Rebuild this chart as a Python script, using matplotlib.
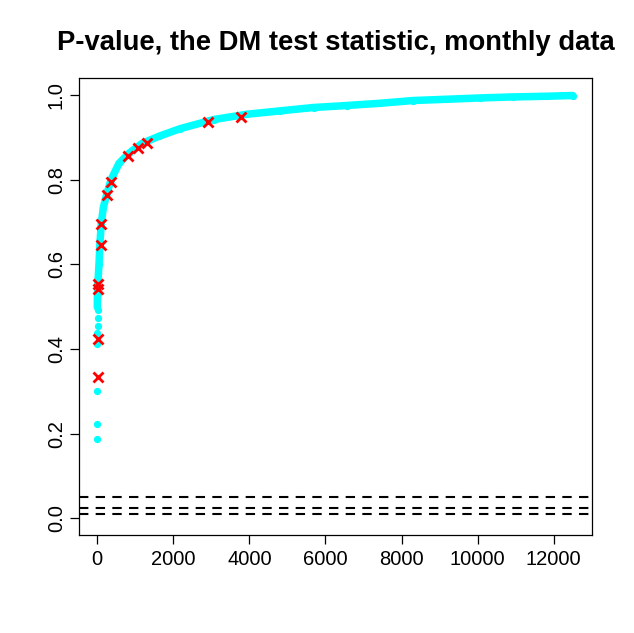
import numpy as np
import matplotlib.pyplot as plt

plt.rcParams['font.family'] = ['Liberation Sans', 'DejaVu Sans']

# cyan band (p-values)
band_x = [1, 3, 6, 10, 15, 25, 45, 70, 105, 160, 255, 360, 570, 834, 1175,
          1622, 2180, 3058, 3928, 4804, 5687, 6558, 7434, 8310, 9188, 10063,
          10939, 11817, 12500]
band_y = [0.50, 0.515, 0.53, 0.54, 0.55, 0.57, 0.60, 0.65, 0.697, 0.735,
          0.768, 0.80, 0.839, 0.863, 0.886, 0.903, 0.921, 0.9425, 0.955,
          0.963, 0.971, 0.9757, 0.981, 0.9875, 0.9905, 0.9936, 0.996,
          0.9976, 0.9993]

# isolated low p-values near the start
low_x = [1, 2, 3, 4, 5, 6, 7, 8]
low_y = [0.188, 0.224, 0.302, 0.413, 0.437, 0.455, 0.474, 0.493]

# highlighted points (red crosses)
mark_x = [10, 10, 26, 26, 89, 105, 255, 352, 807, 1070, 1299, 2919, 3771]
mark_y = [0.334, 0.425, 0.541, 0.553, 0.647, 0.696, 0.765, 0.795, 0.856,
          0.875, 0.888, 0.937, 0.9487]

# significance levels
levels = [0.01, 0.025, 0.05]

fig = plt.figure(figsize=(6.34, 6.33), dpi=100)
ax = fig.add_axes([0.1241, 0.1543, 0.8101, 0.722])

ax.plot(band_x, band_y, color='cyan', lw=5.4, solid_capstyle='round',
        solid_joinstyle='round', zorder=2)
ax.plot(band_x, band_y, 'o', color='cyan', ms=5.2, mec='none', zorder=2)
ax.plot(low_x, low_y, 'o', color='cyan', ms=5.2, mec='none', zorder=2)
ax.plot(mark_x, mark_y, 'x', color='red', ms=7, mew=2.0, zorder=3)

for lv in levels:
    ax.axhline(lv, color='black', lw=1.5, ls=(0, (4.5, 3.5)), zorder=1)

ax.set_xlim(-489, 13016)
ax.set_ylim(-0.04, 1.04)
ax.set_xticks([0, 2000, 4000, 6000, 8000, 10000, 12000])
ax.set_yticks([0.0, 0.2, 0.4, 0.6, 0.8, 1.0])
ax.set_yticklabels(['0.0', '0.2', '0.4', '0.6', '0.8', '1.0'],
                   rotation=90, va='center')
ax.tick_params(axis='both', labelsize=14.5, length=6.7, width=0.9,
               color='black')
ax.tick_params(axis='x', pad=4)
ax.tick_params(axis='y', pad=2.5)
for s in ax.spines.values():
    s.set_linewidth(0.9)

fig.text(335.5 / 634, 1 - 43 / 633, 'P-value, the DM test statistic, monthly data',
         ha='center', va='center', fontsize=19.7, fontweight='bold')

fig.savefig('out.png', dpi=100)
